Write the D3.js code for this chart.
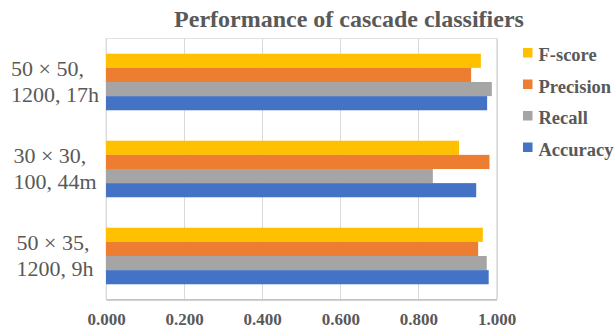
<!DOCTYPE html>
<html>
<head>
<meta charset="utf-8">
<script src="https://cdn.jsdelivr.net/npm/d3@7"></script>
<style>
  html, body { margin: 0; padding: 0; background: #fff; }
  svg { display: block; }
</style>
</head>
<body>
<svg id="chart" width="616" height="334"></svg>
<script>
// Categories, top to bottom, each as two text lines
const categories = [
  ["50 × 50,", "1200, 17h"],
  ["30 × 30,", "100, 44m"],
  ["50 × 35,", "1200, 9h"]
];
// Series in drawing order inside each group (top bar first)
const seriesNames = ["F-score", "Precision", "Recall", "Accuracy"];
const seriesColors = ["#FFC000", "#ED7D31", "#A5A5A5", "#4472C4"];
const fscore    = [0.960, 0.904, 0.965];
const precision = [0.935, 0.982, 0.953];
const recall    = [0.988, 0.837, 0.975];
const accuracy  = [0.976, 0.948, 0.980];
const tickValues = [0, 0.2, 0.4, 0.6, 0.8, 1.0];

const seriesValues = [fscore, precision, recall, accuracy];

const svg = d3.select("#chart");
const plot = { left: 106, right: 496.5, top: 38.5, bottom: 299.5 };
const serif = "'Liberation Serif', 'Times New Roman', serif";

const x = d3.scaleLinear().domain([0, 1]).range([plot.left, plot.right]);
const y = d3.scaleBand()
  .domain(d3.range(categories.length))
  .range([plot.top, plot.bottom])
  .paddingInner(0.35)
  .paddingOuter(0.175);
const ySub = d3.scaleBand()
  .domain(d3.range(seriesNames.length))
  .range([0, y.bandwidth()]);

// Title
svg.append("text")
  .attr("x", 349)
  .attr("y", 27)
  .attr("text-anchor", "middle")
  .attr("font-family", serif)
  .attr("font-weight", "bold")
  .attr("font-size", 24)
  .attr("fill", "#595959")
  .text("Performance of cascade classifiers");

// Plot area frame and vertical gridlines
svg.append("rect")
  .attr("x", plot.left)
  .attr("y", plot.top)
  .attr("width", plot.right - plot.left)
  .attr("height", plot.bottom - plot.top)
  .attr("fill", "none")
  .attr("stroke", "#E3E3E3")
  .attr("stroke-width", 1);

svg.append("g")
  .selectAll("line")
  .data(tickValues)
  .join("line")
  .attr("x1", d => Math.round(x(d)) + 0.5)
  .attr("x2", d => Math.round(x(d)) + 0.5)
  .attr("y1", plot.top)
  .attr("y2", plot.bottom)
  .attr("stroke", "#D9D9D9")
  .attr("stroke-width", 1);

// Bars
const groups = svg.append("g")
  .selectAll("g")
  .data(categories)
  .join("g")
  .attr("transform", (d, i) => `translate(0,${y(i)})`);

groups.selectAll("rect")
  .data((d, i) => seriesValues.map((vals, s) => ({ s, v: vals[i] })))
  .join("rect")
  .attr("x", x(0))
  .attr("y", d => ySub(d.s))
  .attr("width", d => x(d.v) - x(0))
  .attr("height", ySub.bandwidth())
  .attr("fill", d => seriesColors[d.s]);

// X axis
const xAxis = d3.axisBottom(x)
  .tickValues(tickValues)
  .tickFormat(d3.format(".3f"))
  .tickSize(0)
  .tickPadding(13.5);

const gx = svg.append("g")
  .attr("transform", `translate(0,${plot.bottom})`)
  .call(xAxis);
gx.select(".domain").attr("stroke", "#A6A6A6").attr("stroke-width", 1.2);
gx.selectAll("text")
  .attr("font-family", serif)
  .attr("font-weight", "bold")
  .attr("font-size", 17)
  .attr("fill", "#595959");

// Category labels: two lines, left-aligned inside a block centred at x = 55
const labels = svg.append("g")
  .selectAll("g")
  .data(categories)
  .join("g");

labels.each(function (lines, i) {
  const g = d3.select(this);
  const cy = y(i) + y.bandwidth() / 2;
  const texts = lines.map((ln, k) =>
    g.append("text")
      .attr("y", cy - 6 + k * 26)
      .attr("font-family", serif)
      .attr("font-size", 22)
      .attr("fill", "#595959")
      .text(ln)
  );
  const maxW = d3.max(texts, t => t.node().getComputedTextLength());
  texts.forEach(t => t.attr("x", 55 - maxW / 2));
});

// Legend
const legend = svg.append("g")
  .selectAll("g")
  .data(seriesNames)
  .join("g")
  .attr("transform", (d, i) => `translate(523,${48 + i * 31.5})`);

legend.append("rect")
  .attr("width", 9.5)
  .attr("height", 9.5)
  .attr("fill", (d, i) => seriesColors[i]);

legend.append("text")
  .attr("x", 15.5)
  .attr("y", 13)
  .attr("font-family", serif)
  .attr("font-weight", "bold")
  .attr("font-size", 18.5)
  .attr("fill", "#595959")
  .text(d => d);
</script>
</body>
</html>
